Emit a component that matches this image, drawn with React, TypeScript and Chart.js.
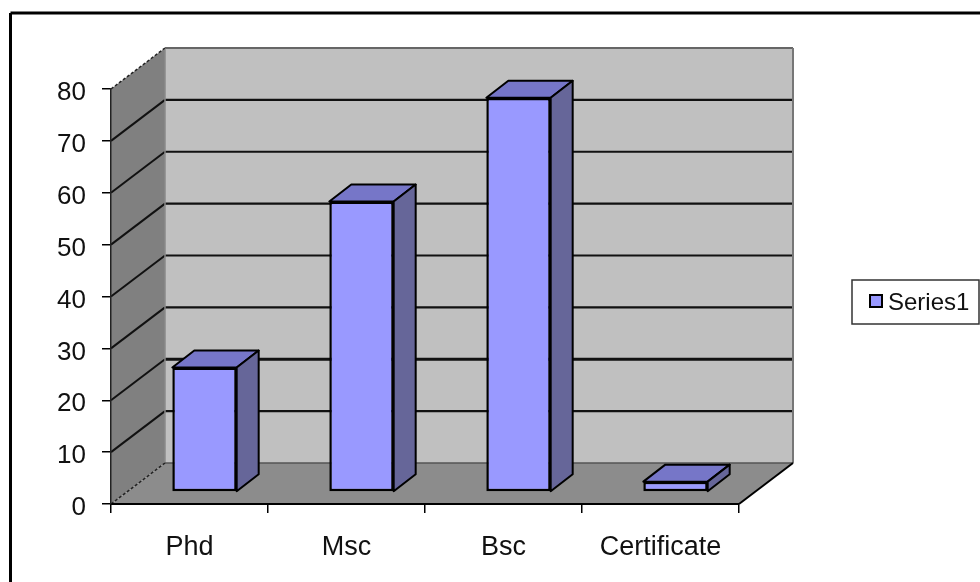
import React, { useEffect, useRef } from "react";
import { Chart, registerables } from "chart.js";

Chart.register(...registerables);

const categories = ["Phd", "Msc", "Bsc", "Certificate"];
const seriesName = "Series1";
const seriesValues = [24, 56, 76, 2];
const yTicks = [0, 10, 20, 30, 40, 50, 60, 70, 80];
const emphasizedGridValue = 20;

const FONT = '"Liberation Sans", Arial, sans-serif';
const WALL_DX = 54;
const WALL_DY = -41;
const BAR_SHIFT_X = 15;
const BAR_SHIFT_Y = -12;
const BAR_DX = 22;
const BAR_DY = -17;

const poly = (ctx: CanvasRenderingContext2D, pts: number[][], fill?: string, stroke?: string, lw = 1) => {
  ctx.beginPath();
  pts.forEach((p, i) => (i ? ctx.lineTo(p[0], p[1]) : ctx.moveTo(p[0], p[1])));
  ctx.closePath();
  if (fill) {
    ctx.fillStyle = fill;
    ctx.fill();
  }
  if (stroke) {
    ctx.strokeStyle = stroke;
    ctx.lineWidth = lw;
    ctx.lineJoin = "round";
    ctx.stroke();
  }
};

const line = (ctx: CanvasRenderingContext2D, x1: number, y1: number, x2: number, y2: number, color: string, lw: number, dash: number[] = []) => {
  ctx.save();
  ctx.setLineDash(dash);
  ctx.beginPath();
  ctx.moveTo(x1, y1);
  ctx.lineTo(x2, y2);
  ctx.strokeStyle = color;
  ctx.lineWidth = lw;
  ctx.stroke();
  ctx.restore();
};

const wallsPlugin = {
  id: "walls",
  beforeDraw(chart: any) {
    const { ctx, chartArea: a, scales } = chart;
    const y = scales.y;
    const top = y.getPixelForValue(80);
    const bottom = y.getPixelForValue(0);
    const bx = a.left + WALL_DX;
    const brx = a.right + WALL_DX;
    ctx.save();
    // frame
    line(ctx, 10.5, 13, 980, 13, "#000", 3);
    line(ctx, 10.5, 13, 10.5, 582, "#000", 3);
    // back wall
    poly(ctx, [[bx, top + WALL_DY], [brx, top + WALL_DY], [brx, bottom + WALL_DY], [bx, bottom + WALL_DY]], "#c0c0c0");
    // side wall
    poly(ctx, [[a.left, top], [bx, top + WALL_DY], [bx, bottom + WALL_DY], [a.left, bottom]], "#808080");
    // floor
    poly(ctx, [[a.left, bottom], [a.right, bottom], [brx, bottom + WALL_DY], [bx, bottom + WALL_DY]], "#8c8c8c");
    // grid lines
    yTicks.forEach((v) => {
      if (v === 0 || v === 80) return;
      const p = y.getPixelForValue(v);
      const lw = v === emphasizedGridValue ? 3.2 : 2.2;
      line(ctx, a.left, p, bx, p + WALL_DY, "#111", 2);
      line(ctx, bx, p + WALL_DY, brx, p + WALL_DY, "#111", lw);
    });
    // wall edges
    line(ctx, bx, top + WALL_DY, brx, top + WALL_DY, "#666", 2);
    line(ctx, brx, top + WALL_DY, brx, bottom + WALL_DY, "#777", 2);
    line(ctx, bx, top + WALL_DY, bx, bottom + WALL_DY, "#8a8a8a", 1.5);
    line(ctx, bx, bottom + WALL_DY, brx, bottom + WALL_DY, "#555", 1.5);
    line(ctx, a.left, top, bx, top + WALL_DY, "#222", 1.5, [3, 2]);
    line(ctx, a.left, bottom, bx, bottom + WALL_DY, "#222", 1.5, [3, 2]);
    line(ctx, a.right, bottom, brx, bottom + WALL_DY, "#000", 2);
    ctx.restore();
  },
  beforeDatasetDraw(chart: any, args: any) {
    const { ctx } = chart;
    ctx.save();
    ctx.translate(BAR_SHIFT_X, BAR_SHIFT_Y);
    args.meta.data.forEach((el: any) => {
      const { x, y, base, width } = el.getProps(["x", "y", "base", "width"], true);
      const l = x - width / 2;
      const r = x + width / 2;
      poly(ctx, [[l, y], [r, y], [r + BAR_DX, y + BAR_DY], [l + BAR_DX, y + BAR_DY]], "#7676c8", "#000", 2);
      poly(ctx, [[r, y], [r + BAR_DX, y + BAR_DY], [r + BAR_DX, base + BAR_DY], [r, base]], "#666699", "#000", 2);
    });
  },
  afterDatasetDraw(chart: any) {
    chart.ctx.restore();
  },
  afterDraw(chart: any) {
    const { ctx } = chart;
    ctx.save();
    ctx.fillStyle = "#fff";
    ctx.fillRect(852, 280, 127, 44);
    ctx.strokeStyle = "#333";
    ctx.lineWidth = 1.5;
    ctx.strokeRect(852, 280, 127, 44);
    ctx.fillStyle = "#9999ff";
    ctx.fillRect(870, 295, 12, 12);
    ctx.strokeStyle = "#000";
    ctx.lineWidth = 2;
    ctx.strokeRect(870, 295, 12, 12);
    ctx.fillStyle = "#111";
    ctx.font = `24px ${FONT}`;
    ctx.textBaseline = "middle";
    ctx.textAlign = "left";
    ctx.fillText(seriesName, 888, 303);
    ctx.restore();
  },
};

export default function App() {
  const ref = useRef<HTMLCanvasElement>(null);
  useEffect(() => {
    const chart = new Chart(ref.current as HTMLCanvasElement, {
      type: "bar",
      data: {
        labels: categories,
        datasets: [
          {
            label: seriesName,
            data: seriesValues,
            backgroundColor: "#9999ff",
            borderColor: "#000",
            borderWidth: 2.5,
            borderSkipped: false,
            barPercentage: 0.41,
            categoryPercentage: 1,
            clip: false,
          } as any,
        ],
      },
      options: {
        responsive: false,
        animation: false,
        devicePixelRatio: 1,
        layout: { padding: { top: 89, right: 241, left: 0, bottom: 0 } },
        plugins: { legend: { display: false }, tooltip: { enabled: false } },
        scales: {
          x: {
            afterFit: (s: any) => {
              s.height = 78;
            },
            grid: { offset: true, drawOnChartArea: false, drawTicks: true, tickLength: 9, color: "#000", lineWidth: 1.5 },
            border: { color: "#000", width: 2 },
            ticks: { color: "#111", font: { family: FONT, size: 27 }, padding: 18, maxRotation: 0 },
          },
          y: {
            min: 0,
            max: 80,
            afterFit: (s: any) => {
              s.width = 111;
            },
            afterUpdate: (s: any) => {
              const draw = s.drawLabels.bind(s);
              s.drawLabels = (area: any) => {
                s.ctx.save();
                s.ctx.translate(0, 2);
                draw(area);
                s.ctx.restore();
              };
            },
            grid: { drawOnChartArea: false, drawTicks: true, tickLength: 9, color: "#000", lineWidth: 1.5 },
            border: { color: "#222", width: 1.5 },
            afterBuildTicks: (s: any) => {
              s.ticks = yTicks.map((value) => ({ value }));
            },
            ticks: { color: "#111", font: { family: FONT, size: 26 }, padding: 16 },
          },
        },
      },
      plugins: [wallsPlugin as any],
    });
    return () => chart.destroy();
  }, []);
  return (
    <div style={{ position: "fixed", left: 0, top: 0, width: 980, height: 582, background: "#fff" }}>
      <canvas ref={ref} width={980} height={582} style={{ display: "block", width: 980, height: 582 }} />
    </div>
  );
}
